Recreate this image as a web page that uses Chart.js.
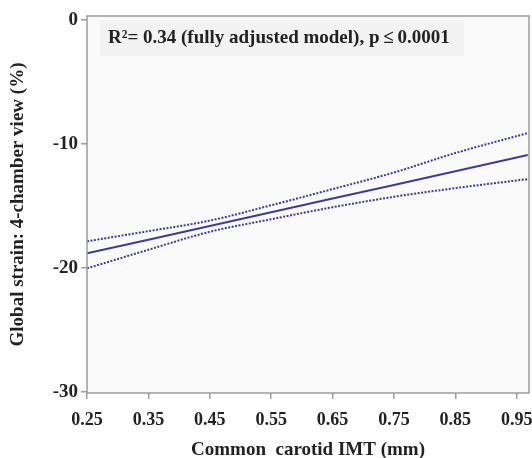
<!DOCTYPE html>
<html>
<head>
<meta charset="utf-8">
<script src="https://cdn.jsdelivr.net/npm/chart.js@4"></script>
<style>
  html, body { margin: 0; padding: 0; background: #fff; }
  #wrap { width: 532px; height: 458px; }
</style>
</head>
<body>
<div id="wrap"><canvas id="chart"></canvas></div>
<script>
// values
const imtX = [0.25, 0.35, 0.45, 0.55, 0.65, 0.75, 0.85, 0.968];
const fitLine = [-18.84, -17.74, -16.63, -15.53, -14.42, -13.32, -12.22, -10.91];
const upperCI = [-17.87, -17.05, -16.2, -14.96, -13.66, -12.32, -10.75, -9.14];
const lowerCI = [-20.05, -18.55, -17.1, -16.09, -15.12, -14.28, -13.58, -12.85];
const xTicks = [0.25, 0.35, 0.45, 0.55, 0.65, 0.75, 0.85, 0.95];
const yTicks = [0, -10, -20, -30];

const lineColor = '#3f3a9a';
const serif = '"Liberation Serif", "Times New Roman", serif';

function pts(ys) {
  return imtX.map((x, i) => ({ x: x, y: ys[i] }));
}

const frame = {
  id: 'frame',
  beforeDatasetsDraw(chart) {
    const { ctx, chartArea: a } = chart;
    ctx.save();
    ctx.fillStyle = '#fafafa';
    ctx.fillRect(a.left, a.top, a.right - a.left, a.bottom - a.top);
    // label box + text
    ctx.fillStyle = '#f2f2f2';
    ctx.fillRect(a.left + 13, a.top + 4, 364, 36);
    ctx.fillStyle = '#222';
    ctx.font = 'bold 19px ' + serif;
    ctx.textBaseline = 'middle';
    ctx.fillText('R\u00b2= 0.34 (fully adjusted model), p\u2009\u2264\u20090.0001', a.left + 21, a.top + 22);
    ctx.restore();
  },
  afterDatasetsDraw(chart) {
    const { ctx, chartArea: a } = chart;
    ctx.save();
    ctx.strokeStyle = '#9c9c9c';
    ctx.lineWidth = 1.5;
    ctx.strokeRect(a.left, a.top, a.right - a.left, a.bottom - a.top);
    ctx.restore();
  }
};

new Chart(document.getElementById('chart'), {
  type: 'scatter',
  data: {
    datasets: [
      { data: pts(fitLine), showLine: true, borderColor: lineColor, borderWidth: 2, pointRadius: 0 },
      { data: pts(upperCI), showLine: true, borderColor: lineColor, borderWidth: 2, borderDash: [2, 1.5], pointRadius: 0, cubicInterpolationMode: 'monotone' },
      { data: pts(lowerCI), showLine: true, borderColor: lineColor, borderWidth: 2, borderDash: [2, 1.5], pointRadius: 0, cubicInterpolationMode: 'monotone' }
    ]
  },
  options: {
    responsive: true,
    maintainAspectRatio: false,
    animation: false,
    layout: { padding: { top: 16, right: 3, left: 3, bottom: 0 } },
    plugins: { legend: { display: false }, tooltip: { enabled: false } },
    scales: {
      x: {
        type: 'linear',
        min: 0.25,
        max: 0.97,
        afterBuildTicks: (s) => { s.ticks = xTicks.map(v => ({ value: v })); },
        afterFit: (s) => { s.height = 65; s.paddingRight = 0; s.paddingLeft = 0; },
        grid: { drawOnChartArea: false, drawTicks: true, tickLength: 6, color: '#9c9c9c', lineWidth: 1.5 },
        border: { display: false },
        ticks: { color: '#222', font: { family: serif, size: 18, weight: 'bold' }, padding: 11, maxRotation: 0,
                 callback: (v) => v.toFixed(2) },
        title: { display: true, text: 'Common  carotid IMT (mm)', color: '#222',
                 font: { family: serif, size: 19, weight: 'bold' }, padding: { top: 16, bottom: -3 } }
      },
      y: {
        min: -30.1,
        max: 0.3,
        afterBuildTicks: (s) => { s.ticks = yTicks.map(v => ({ value: v })); },
        afterFit: (s) => { s.width = 84; },
        grid: { drawOnChartArea: false, drawTicks: true, tickLength: 6, color: '#9c9c9c', lineWidth: 1.5 },
        border: { display: false },
        ticks: { color: '#222', font: { family: serif, size: 19, weight: 'bold' }, padding: 3 },
        title: { display: true, text: 'Global strain: 4-chamber view (%)', color: '#222',
                 font: { family: serif, size: 19, weight: 'bold' }, padding: { bottom: 4 } }
      }
    }
  },
  plugins: [frame]
});
</script>
</body>
</html>
